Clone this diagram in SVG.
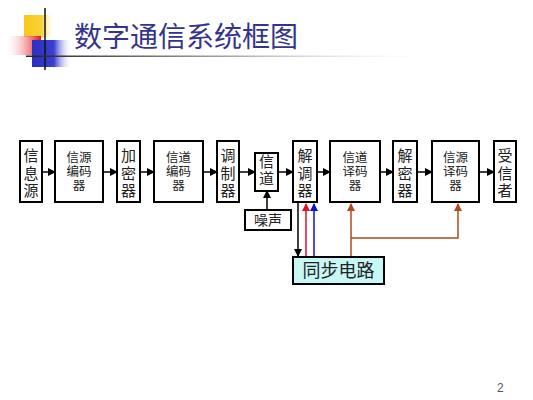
<svg xmlns="http://www.w3.org/2000/svg" width="533" height="400" viewBox="0 0 533 400">
<defs>
<linearGradient id="gy" x1="0" y1="0" x2="1" y2="0"><stop offset="0" stop-color="#f7c81a"/><stop offset="0.6" stop-color="#f9d23a"/><stop offset="1" stop-color="#fff" stop-opacity="0"/></linearGradient>
<linearGradient id="gr" x1="0" y1="0" x2="1" y2="0"><stop offset="0" stop-color="#fff" stop-opacity="0.2"/><stop offset="1" stop-color="#e8101a"/></linearGradient>
<linearGradient id="gb" x1="0" y1="0" x2="1" y2="0"><stop offset="0" stop-color="#2a2fc0"/><stop offset="0.55" stop-color="#3a3fd0"/><stop offset="1" stop-color="#fff" stop-opacity="0"/></linearGradient>
<linearGradient id="gl" x1="0" y1="0" x2="1" y2="0"><stop offset="0" stop-color="#222"/><stop offset="0.5" stop-color="#aaa"/><stop offset="1" stop-color="#fff" stop-opacity="0"/></linearGradient>
<marker id="ak" markerWidth="8" markerHeight="8" refX="7" refY="4" orient="auto" markerUnits="userSpaceOnUse"><path d="M0,0 L8,4 L0,8 z" fill="#000"/></marker>
<marker id="ar" markerWidth="8" markerHeight="8" refX="7" refY="4" orient="auto" markerUnits="userSpaceOnUse"><path d="M0,0 L8,4 L0,8 z" fill="#e01020"/></marker>
<marker id="ab" markerWidth="8" markerHeight="8" refX="7" refY="4" orient="auto" markerUnits="userSpaceOnUse"><path d="M0,0 L8,4 L0,8 z" fill="#1010d0"/></marker>
<marker id="an" markerWidth="8" markerHeight="8" refX="7" refY="4" orient="auto" markerUnits="userSpaceOnUse"><path d="M0,0 L8,4 L0,8 z" fill="#b04a1e"/></marker>
</defs>
<style>
.bx{fill:#fff;stroke:#000;stroke-width:2}
.t{font-family:"Liberation Serif","Noto Sans CJK SC",serif;fill:#222;text-anchor:middle}
.n{font-size:15px}
.s{font-size:12.5px}
.c{fill:none;stroke-width:1.5}
</style>
<rect width="533" height="400" fill="#fff"/>
<g id="decor">
<rect x="24" y="15" width="30" height="22" fill="url(#gy)"/>
<rect x="7" y="36" width="34" height="19" fill="url(#gr)"/>
<rect x="32" y="40" width="40" height="27" fill="url(#gb)"/>
<line x1="45" y1="8" x2="45" y2="70" stroke="#111" stroke-width="1.5"/>
<rect x="26" y="55.5" width="420" height="1.5" fill="url(#gl)"/>
</g>
<text id="title" x="74" y="47" style="font-family:'Noto Sans CJK SC',sans-serif;font-size:28px;fill:#34348c">数字通信系统框图</text>
<g id="connectors">
<line class="c" x1="42" y1="172" x2="55" y2="172" stroke="#000" marker-end="url(#ak)"/>
<line class="c" x1="103" y1="172" x2="117" y2="172" stroke="#000" marker-end="url(#ak)"/>
<line class="c" x1="140" y1="172" x2="154" y2="172" stroke="#000" marker-end="url(#ak)"/>
<line class="c" x1="203" y1="172" x2="217" y2="172" stroke="#000" marker-end="url(#ak)"/>
<line class="c" x1="239" y1="172" x2="255" y2="172" stroke="#000" marker-end="url(#ak)"/>
<line class="c" x1="278" y1="172" x2="293" y2="172" stroke="#000" marker-end="url(#ak)"/>
<line class="c" x1="317" y1="172" x2="330" y2="172" stroke="#000" marker-end="url(#ak)"/>
<line class="c" x1="380" y1="172" x2="393" y2="172" stroke="#000" marker-end="url(#ak)"/>
<line class="c" x1="417" y1="172" x2="432" y2="172" stroke="#000" marker-end="url(#ak)"/>
<line class="c" x1="479" y1="172" x2="494" y2="172" stroke="#000" marker-end="url(#ak)"/>
<line class="c" x1="267" y1="210" x2="267" y2="191" stroke="#000" marker-end="url(#ak)"/>
<line class="c" x1="298" y1="203" x2="298" y2="256" stroke="#000" marker-end="url(#ak)"/>
<line class="c" x1="306" y1="257" x2="306" y2="204" stroke="#e01020" marker-end="url(#ar)"/>
<line class="c" x1="314" y1="257" x2="314" y2="204" stroke="#1010d0" marker-end="url(#ab)"/>
<line class="c" x1="351" y1="257" x2="351" y2="204" stroke="#b04a1e" marker-end="url(#an)"/>
<polyline class="c" points="351,238 458,238 458,204" stroke="#b04a1e" marker-end="url(#an)"/>
</g>
<g id="n1"><rect class="bx" x="20" y="141" width="22" height="61"/><text class="t n"><tspan x="31" y="161">信</tspan><tspan x="31" y="179">息</tspan><tspan x="31" y="196">源</tspan></text></g>
<g id="n2"><rect class="bx" x="55" y="141" width="48" height="61"/><text class="t s"><tspan x="79" y="162">信源</tspan><tspan x="79" y="176">编码</tspan><tspan x="79" y="190">器</tspan></text></g>
<g id="n3"><rect class="bx" x="117" y="141" width="23" height="61"/><text class="t n"><tspan x="128.5" y="161">加</tspan><tspan x="128.5" y="179">密</tspan><tspan x="128.5" y="196">器</tspan></text></g>
<g id="n4"><rect class="bx" x="154" y="141" width="49" height="61"/><text class="t s"><tspan x="178.5" y="162">信道</tspan><tspan x="178.5" y="176">编码</tspan><tspan x="178.5" y="190">器</tspan></text></g>
<g id="n5"><rect class="bx" x="217" y="141" width="22" height="61"/><text class="t n"><tspan x="228" y="161">调</tspan><tspan x="228" y="179">制</tspan><tspan x="228" y="196">器</tspan></text></g>
<g id="n6"><rect class="bx" x="255" y="153" width="23" height="38"/><text class="t n"><tspan x="266.5" y="167">信</tspan><tspan x="266.5" y="184">道</tspan></text></g>
<g id="n7"><rect class="bx" x="245" y="210" width="46" height="20"/><text class="t" x="268" y="225" style="font-size:14px">噪声</text></g>
<g id="n8"><rect class="bx" x="293" y="141" width="24" height="61"/><text class="t n"><tspan x="305" y="161">解</tspan><tspan x="305" y="179">调</tspan><tspan x="305" y="196">器</tspan></text></g>
<g id="n9"><rect class="bx" x="330" y="141" width="50" height="61"/><text class="t s"><tspan x="355" y="162">信道</tspan><tspan x="355" y="176">译码</tspan><tspan x="355" y="190">器</tspan></text></g>
<g id="n10"><rect class="bx" x="393" y="141" width="24" height="61"/><text class="t n"><tspan x="405" y="161">解</tspan><tspan x="405" y="179">密</tspan><tspan x="405" y="196">器</tspan></text></g>
<g id="n11"><rect class="bx" x="432" y="141" width="47" height="61"/><text class="t s"><tspan x="455.5" y="162">信源</tspan><tspan x="455.5" y="176">译码</tspan><tspan x="455.5" y="190">器</tspan></text></g>
<g id="n12"><rect class="bx" x="494" y="141" width="22" height="61"/><text class="t n"><tspan x="505" y="161">受</tspan><tspan x="505" y="179">信</tspan><tspan x="505" y="196">者</tspan></text></g>
<g id="n13"><rect x="293" y="257" width="91" height="27" fill="#c8f8f6" stroke="#000" stroke-width="2"/><text class="t" x="338.5" y="277" style="font-size:18px">同步电路</text></g>
<text x="497" y="392" style="font-family:'Liberation Sans',sans-serif;font-size:12px;fill:#555">2</text>
</svg>
